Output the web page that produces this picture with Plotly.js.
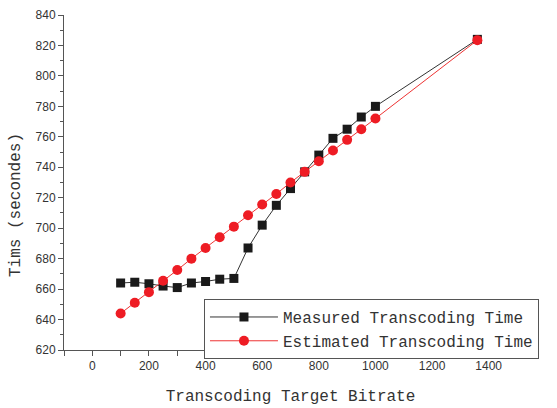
<!DOCTYPE html>
<html><head><meta charset="utf-8">
<script src="https://cdn.plot.ly/plotly-3.0.1.min.js"></script>
<style>html,body{margin:0;padding:0;background:#fff}#chart{width:557px;height:408px}</style>
</head><body><div id="chart"></div>
<script>
var bitrate = [100,150,200,250,300,350,400,450,500,550,600,650,700,750,800,850,900,950,1000,1360];
var measured = [664,664.5,663.5,662,661,664,665,666.5,667,687,702,715,726,737,748,759,765,773,780,824];
var estimated = [644,651,658,665.5,672.5,680,687,694,701,708.5,715.5,722.5,730,737,744,751,758,765,772,823.5];
var seriesNames = ["Measured Transcoding Time","Estimated Transcoding Time"];
var xTitle = "Transcoding Target Bitrate";
var yTitle = "Tims (secondes)";

var traces = [
  {x: bitrate, y: measured, name: seriesNames[0], mode: "lines+markers", type: "scatter",
   line: {color: "#333333", width: 1}, marker: {symbol: "square", size: 9, color: "#1a1a1a"}},
  {x: bitrate, y: estimated, name: seriesNames[1], mode: "lines+markers", type: "scatter",
   line: {color: "#ee3333", width: 1}, marker: {symbol: "circle", size: 10, color: "#ee1c24"}}
];
var mono = "Liberation Mono, Courier New, monospace";
var layout = {
  width: 557, height: 408,
  margin: {l: 64, r: 40, t: 15, b: 58},
  paper_bgcolor: "#fff", plot_bgcolor: "#fff",
  showlegend: true,
  legend: {x: 0.309, y: 0.152, xanchor: "left", yanchor: "top", bgcolor: "rgba(255,255,255,1)",
    bordercolor: "#555", borderwidth: 1, font: {family: mono, size: 16, color: "#333"},
    tracegroupgap: 0, itemwidth: 68},
  xaxis: {range: [-100, 1500], showgrid: false, zeroline: false, showline: true, linecolor: "#555", linewidth: 1,
    ticks: "outside", ticklen: 5, tickcolor: "#555", tickvals: [0,200,400,600,800,1000,1200,1400],
    minor: {tickvals: [-100,100,300,500,700,900,1100,1300,1500], ticks: "outside", ticklen: 5, tickcolor: "#555"},
    tickfont: {family: "Liberation Sans, Arial, sans-serif", size: 12, color: "#333"},
    title: {text: xTitle, font: {family: mono, size: 16, color: "#333"}, standoff: 17}},
  yaxis: {range: [620, 840], showgrid: false, zeroline: false, showline: true, linecolor: "#555", linewidth: 1,
    ticks: "outside", ticklen: 5, tickcolor: "#555", dtick: 20, tick0: 620,
    minor: {dtick: 10, ticks: "outside", ticklen: 3, tickcolor: "#555"},
    tickfont: {family: "Liberation Sans, Arial, sans-serif", size: 12, color: "#333"}},
  annotations: [{text: yTitle, xref: "paper", yref: "paper", x: -64/453, y: (350-205)/335,
    xanchor: "left", yanchor: "middle", textangle: -90, showarrow: false, xshift: 5,
    font: {family: mono, size: 16, color: "#333"}}]
};
Plotly.newPlot("chart", traces, layout, {displayModeBar: false, staticPlot: true});
</script></body></html>
